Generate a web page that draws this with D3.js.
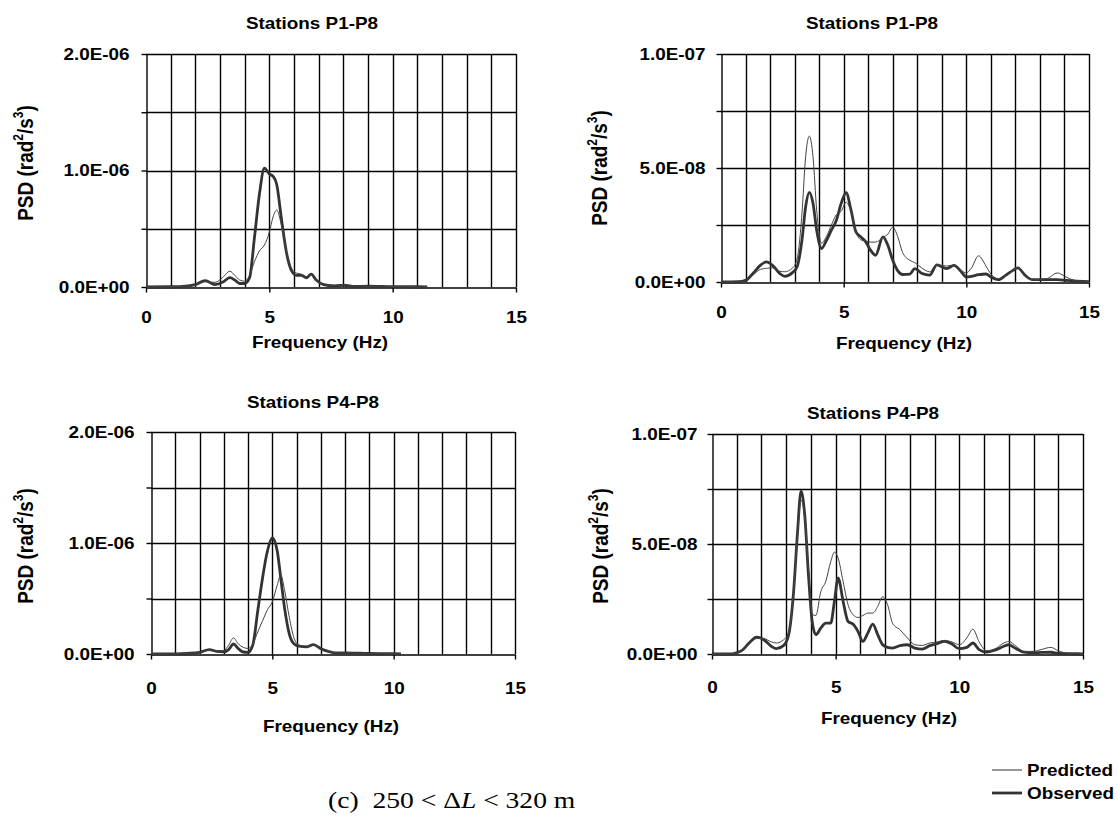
<!DOCTYPE html>
<html>
<head>
<meta charset="utf-8">
<script src="https://cdn.jsdelivr.net/npm/d3@7"></script>
<style>
  body { margin: 0; background: #fff; }
  svg { display: block; }
</style>
</head>
<body>
<svg width="1118" height="817"></svg>
<script>
// PSD values, panels A/C in 1E-06 units, panels B/D in 1E-08 units
const freqA = [0, 1, 1.5, 2, 2.4, 2.8, 3.1, 3.4, 3.6, 3.8, 4.0, 4.2, 4.4, 4.6, 4.8, 5.0, 5.15, 5.3, 5.5, 5.7, 5.9, 6.1, 6.3, 6.5, 6.7, 6.9, 7.2, 7.6, 8.0, 8.5, 9.0, 10.0, 11.0, 11.4];
const obsA = [0, 0.002, 0.005, 0.02, 0.055, 0.02, 0.04, 0.08, 0.06, 0.03, 0.03, 0.08, 0.43, 0.8, 1.02, 0.97, 0.95, 0.88, 0.57, 0.29, 0.14, 0.1, 0.1, 0.08, 0.11, 0.06, 0.02, 0.01, 0.015, 0.005, 0.007, 0.003, 0.002, 0];
const predA = [0, 0.002, 0.005, 0.015, 0.045, 0.04, 0.08, 0.135, 0.1, 0.06, 0.05, 0.1, 0.22, 0.31, 0.36, 0.47, 0.6, 0.66, 0.52, 0.3, 0.16, 0.12, 0.11, 0.07, 0.11, 0.06, 0.025, 0.015, 0.02, 0.008, 0.008, 0.004, 0.002, 0];

const freqB = [0, 0.7, 1.0, 1.3, 1.6, 1.85, 2.1, 2.4, 2.6, 2.9, 3.1, 3.3, 3.45, 3.6, 3.75, 3.9, 4.1, 4.3, 4.5, 4.7, 4.9, 5.1, 5.3, 5.5, 5.7, 5.9, 6.1, 6.3, 6.6, 6.8, 7.0, 7.2, 7.4, 7.7, 7.9, 8.2, 8.5, 8.8, 9.2, 9.5, 9.8, 10.0, 10.2, 10.5, 10.8, 11.0, 11.3, 11.6, 11.9, 12.1, 12.4, 12.7, 13.0, 13.3, 13.7, 14.1, 14.5, 15];
const obsB = [0, 0.01, 0.07, 0.37, 0.73, 0.88, 0.73, 0.37, 0.25, 0.4, 0.66, 1.83, 3.3, 3.93, 3.45, 2.27, 1.47, 1.83, 2.27, 2.7, 3.45, 3.92, 3.15, 2.2, 1.98, 1.76, 1.39, 1.17, 1.98, 1.61, 0.95, 0.5, 0.33, 0.35, 0.59, 0.37, 0.3, 0.75, 0.59, 0.73, 0.44, 0.22, 0.25, 0.32, 0.35, 0.22, 0.1, 0.29, 0.51, 0.62, 0.29, 0.1, 0.1, 0.1, 0.1, 0.07, 0.04, 0.01];
const predB = [0, 0.01, 0.05, 0.3, 0.55, 0.6, 0.62, 0.47, 0.45, 0.6, 1.0, 3.0, 5.5, 6.4, 5.5, 3.15, 1.7, 2.0, 2.5, 2.95, 3.1, 3.5, 3.1, 2.2, 1.85, 1.8, 1.75, 1.75, 1.95, 2.1, 2.4, 2.0, 1.3, 0.95, 0.85, 0.6, 0.45, 0.75, 0.7, 0.75, 0.5, 0.4, 0.6, 1.15, 0.7, 0.35, 0.15, 0.25, 0.5, 0.62, 0.25, 0.1, 0.12, 0.15, 0.4, 0.2, 0.05, 0.01];

const freqC = [0, 1.0, 1.5, 2.0, 2.4, 2.7, 3.0, 3.2, 3.4, 3.6, 3.8, 4.0, 4.2, 4.4, 4.6, 4.8, 5.0, 5.2, 5.35, 5.5, 5.7, 5.9, 6.1, 6.4, 6.7, 7.0, 7.3, 7.6, 8.0, 9.0, 10.0, 10.3];
const obsC = [0, 0.002, 0.006, 0.015, 0.04, 0.024, 0.02, 0.04, 0.09, 0.048, 0.018, 0.015, 0.085, 0.39, 0.69, 0.93, 1.045, 0.93, 0.68, 0.42, 0.18, 0.09, 0.07, 0.065, 0.085, 0.048, 0.024, 0.01, 0.01, 0.005, 0.003, 0];
const predC = [0, 0.002, 0.005, 0.01, 0.035, 0.03, 0.03, 0.08, 0.145, 0.09, 0.06, 0.05, 0.09, 0.2, 0.3, 0.4, 0.47, 0.62, 0.71, 0.58, 0.33, 0.14, 0.08, 0.07, 0.08, 0.04, 0.02, 0.012, 0.01, 0.005, 0.003, 0];

const freqD = [0, 0.8, 1.0, 1.2, 1.5, 1.8, 2.1, 2.4, 2.6, 2.9, 3.1, 3.3, 3.45, 3.6, 3.75, 3.9, 4.05, 4.2, 4.4, 4.6, 4.8, 4.95, 5.1, 5.3, 5.5, 5.7, 5.9, 6.1, 6.3, 6.5, 6.7, 6.9, 7.1, 7.3, 7.6, 7.9, 8.2, 8.5, 8.8, 9.1, 9.4, 9.7, 10.0, 10.3, 10.55, 10.8, 11.1, 11.5, 11.8, 12.0, 12.3, 12.6, 13.0, 13.3, 13.7, 14.0, 14.4, 15];
const obsD = [0, 0.01, 0.06, 0.15, 0.5, 0.77, 0.65, 0.35, 0.24, 0.39, 0.88, 2.84, 5.4, 7.4, 6.3, 3.6, 1.48, 0.88, 1.18, 1.4, 1.4, 2.4, 3.45, 2.4, 1.48, 1.36, 1.03, 0.57, 0.95, 1.36, 0.88, 0.42, 0.3, 0.27, 0.38, 0.42, 0.27, 0.22, 0.38, 0.47, 0.57, 0.45, 0.24, 0.3, 0.5, 0.2, 0.09, 0.2, 0.35, 0.42, 0.24, 0.09, 0.06, 0.07, 0.08, 0.03, 0.015, 0.01];
const predD = [0, 0.01, 0.05, 0.15, 0.45, 0.7, 0.7, 0.55, 0.5, 0.65, 1.0, 2.8, 5.3, 7.0, 6.2, 3.9, 1.8, 1.75, 2.84, 3.3, 4.2, 4.63, 4.36, 3.3, 2.24, 1.79, 1.66, 1.75, 1.86, 1.86, 2.16, 2.6, 2.24, 1.4, 1.1, 0.73, 0.42, 0.39, 0.5, 0.55, 0.62, 0.55, 0.42, 0.73, 1.13, 0.55, 0.15, 0.27, 0.5, 0.57, 0.35, 0.12, 0.12, 0.2, 0.3, 0.15, 0.03, 0.01];

const labelsE6 = ["0.0E+00", "1.0E-06", "2.0E-06"];
const labelsE8 = ["0.0E+00", "5.0E-08", "1.0E-07"];
const xTicks = [0, 5, 10, 15];
const seriesNames = ["Predicted", "Observed"];

const SX = 1.18; // text in the source is stretched horizontally
const FONT = "Arial, 'Liberation Sans', sans-serif";

const panels = [
  { title: "Stations P1-P8", freq: freqA, obs: obsA, pred: predA, yMax: 2, yStep: 0.5, labels: labelsE6,
    x0: 146, x1: 516, y0: 54, y1: 287, tX: 312, tY: 29, xtX: 320, xtY: 348, ytX: 33, ytY: 163, xPad: 19, yOff: 17 },
  { title: "Stations P1-P8", freq: freqB, obs: obsB, pred: predB, yMax: 10, yStep: 2.5, labels: labelsE8,
    x0: 721, x1: 1089, y0: 54, y1: 282, tX: 872, tY: 29, xtX: 904, xtY: 349, ytX: 607, ytY: 168, xPad: 19, yOff: 16 },
  { title: "Stations P4-P8", freq: freqC, obs: obsC, pred: predC, yMax: 2, yStep: 0.5, labels: labelsE6,
    x0: 151, x1: 515, y0: 432, y1: 654, tX: 313, tY: 408, xtX: 331, xtY: 732, ytX: 33, ytY: 546, xPad: 23, yOff: 17 },
  { title: "Stations P4-P8", freq: freqD, obs: obsD, pred: predD, yMax: 10, yStep: 2.5, labels: labelsE8,
    x0: 712, x1: 1083, y0: 434, y1: 654, tX: 873, tY: 419, xtX: 889, xtY: 724, ytX: 608, ytY: 546, xPad: 22, yOff: 15 }
];

const svg = d3.select("svg");
svg.append("rect").attr("width", 1118).attr("height", 817).attr("fill", "#fff");

const stext = (g, x, y, str, size, anchor) =>
  g.append("text")
    .attr("transform", `translate(${x},${y}) scale(${SX},1)`)
    .attr("text-anchor", anchor)
    .style("font", `bold ${size}px ${FONT}`)
    .attr("fill", "#000")
    .text(str);

panels.forEach((p) => {
  const g = svg.append("g");
  const x = d3.scaleLinear().domain([0, 15]).range([p.x0, p.x1]);
  const y = d3.scaleLinear().domain([0, p.yMax]).range([p.y1, p.y0]);
  const yTicks = d3.range(0, p.yMax + p.yStep / 2, p.yStep);

  // grid
  g.selectAll(".vg").data(d3.range(1, 16)).enter().append("line")
    .attr("x1", (d) => Math.round(x(d)) + 0.5).attr("x2", (d) => Math.round(x(d)) + 0.5)
    .attr("y1", p.y0).attr("y2", p.y1)
    .attr("stroke", "#000").attr("stroke-width", 1.4);
  g.selectAll(".hg").data(yTicks.slice(1)).enter().append("line")
    .attr("x1", p.x0).attr("x2", p.x1)
    .attr("y1", (d) => Math.round(y(d)) + 0.5).attr("y2", (d) => Math.round(y(d)) + 0.5)
    .attr("stroke", "#000").attr("stroke-width", 1.4);

  // axes
  const ya = g.append("g").attr("transform", `translate(${Math.round(p.x0) + 0.5},0)`)
    .call(d3.axisLeft(y).tickValues(yTicks).tickSize(5).tickSizeOuter(0)
      .tickFormat((d, i) => (i % 2 === 0 ? p.labels[i / 2] : "")));
  ya.selectAll("text")
    .attr("x", -p.yOff / SX).attr("transform", `scale(${SX},1)`)
    .style("font", `bold 16px ${FONT}`).attr("fill", "#000");
  const xa = g.append("g").attr("transform", `translate(0,${Math.round(p.y1) + 0.5})`)
    .call(d3.axisBottom(x).tickValues(xTicks).tickSize(5).tickSizeOuter(0).tickPadding(p.xPad));
  xa.selectAll("text").attr("transform", `scale(${SX},1)`)
    .style("font", `bold 16px ${FONT}`).attr("fill", "#000");
  g.selectAll(".domain, .tick line").attr("stroke", "#000").attr("stroke-width", 1.4);

  // curves
  const line = d3.line().x((d) => x(d[0])).y((d) => y(d[1])).curve(d3.curveMonotoneX);
  g.append("path").datum(p.freq.map((f, i) => [f, p.obs[i]]))
    .attr("d", line).attr("fill", "none").attr("stroke", "#333").attr("stroke-width", 2.8)
    .attr("stroke-linejoin", "round");
  g.append("path").datum(p.freq.map((f, i) => [f, p.pred[i]]))
    .attr("d", line).attr("fill", "none").attr("stroke", "#444").attr("stroke-width", 1);

  // titles
  stext(g, p.tX, p.tY, p.title, 16, "middle");
  stext(g, p.xtX, p.xtY, "Frequency (Hz)", 16, "middle");
  const yt = g.append("text")
    .attr("transform", `translate(${p.ytX},${p.ytY}) scale(1.2,1) rotate(-90)`)
    .attr("text-anchor", "middle")
    .style("font", `bold 19px ${FONT}`).attr("fill", "#000");
  yt.append("tspan").text("PSD (rad");
  yt.append("tspan").attr("dy", -8).style("font-size", "12px").text("2");
  yt.append("tspan").attr("dy", 8).text("/s");
  yt.append("tspan").attr("dy", -8).style("font-size", "12px").text("3");
  yt.append("tspan").attr("dy", 8).text(")");
});

// legend
const legend = svg.append("g");
seriesNames.forEach((name, i) => {
  const ly = 770 + i * 23;
  legend.append("line").attr("x1", 992).attr("x2", 1022).attr("y1", ly).attr("y2", ly)
    .attr("stroke", "#333").attr("stroke-width", i === 0 ? 1 : 2.8);
  stext(legend, 1027, ly + 6, name, 16, "start");
});

// caption
const cap = svg.append("text")
  .attr("transform", "translate(328,808) scale(1.2,1)")
  .attr("xml:space", "preserve").style("white-space", "pre")
  .style("font", "23px 'Times New Roman', 'Liberation Serif', serif").attr("fill", "#000");
cap.append("tspan").text("(c)  250 < \u0394");
cap.append("tspan").style("font-style", "italic").text("L");
cap.append("tspan").text(" < 320 m");
</script>
</body>
</html>
